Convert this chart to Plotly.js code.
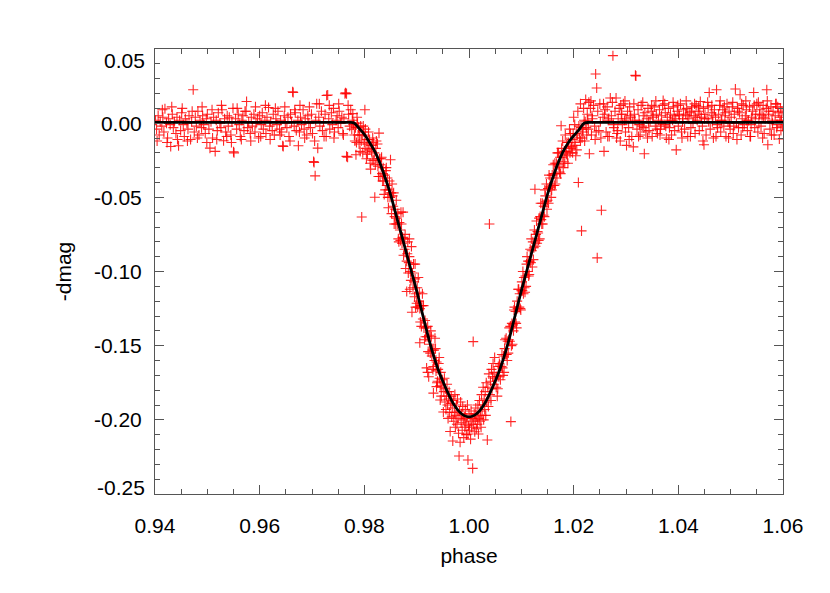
<!DOCTYPE html>
<html>
<head>
<meta charset="utf-8">
<script src="https://cdn.plot.ly/plotly-3.0.1.min.js"></script>
<style>html,body{margin:0;padding:0;background:#fff;}#chart{width:830px;height:593px;}</style>
</head>
<body>
<div id="chart"></div>
<script>
var preX = [0.9401,0.9403,0.9406,0.9408,0.9410,0.9413,0.9415,0.9417,0.9419,0.9422,
0.9424,0.9426,0.9429,0.9430,0.9433,0.9435,0.9437,0.9440,0.9442,0.9445,
0.9447,0.9449,0.9451,0.9454,0.9456,0.9458,0.9461,0.9463,0.9465,0.9468,
0.9470,0.9473,0.9475,0.9477,0.9479,0.9482,0.9484,0.9486,0.9489,0.9491,
0.9493,0.9496,0.9498,0.9500,0.9503,0.9505,0.9507,0.9510,0.9512,0.9515,
0.9517,0.9519,0.9521,0.9524,0.9526,0.9528,0.9531,0.9533,0.9535,0.9538,
0.9540,0.9542,0.9545,0.9547,0.9549,0.9550,0.9551,0.9554,0.9556,0.9559,
0.9561,0.9563,0.9566,0.9568,0.9570,0.9572,0.9575,0.9577,0.9579,0.9582,
0.9584,0.9586,0.9589,0.9591,0.9593,0.9596,0.9598,0.9600,0.9603,0.9605,
0.9607,0.9610,0.9612,0.9614,0.9617,0.9619,0.9621,0.9624,0.9626,0.9628,
0.9631,0.9633,0.9635,0.9638,0.9640,0.9642,0.9644,0.9645,0.9647,0.9649,
0.9652,0.9654,0.9656,0.9659,0.9661,0.9663,0.9664,0.9666,0.9668,0.9670,
0.9673,0.9674,0.9676,0.9678,0.9680,0.9683,0.9685,0.9687,0.9690,0.9692,
0.9694,0.9697,0.9699,0.9701,0.9703,0.9704,0.9706,0.9707,0.9709,0.9711,
0.9713,0.9715,0.9718,0.9720,0.9722,0.9725,0.9727,0.9728,0.9730,0.9732,
0.9734,0.9737,0.9739,0.9741,0.9743,0.9746,0.9748,0.9750,0.9752,0.9755,
0.9757,0.9759,0.9761,0.9763,0.9764,0.9766,0.9766,0.9768,0.9770,0.9772,
0.9774,0.9776,0.9777,0.9778,0.9779];
var preY = [0.002,-0.004,0.005,-0.008,0.001,-0.002,0.004,-0.006,0.0097,0.000,
-0.010,0.003,-0.001,-0.0157,0.006,-0.003,0.001,-0.007,0.004,-0.0152,
0.002,-0.005,0.007,-0.001,-0.009,0.003,0.000,-0.004,0.005,-0.011,
0.001,0.0225,-0.006,0.004,-0.002,0.008,-0.008,0.002,-0.003,0.005,
-0.001,-0.007,0.003,0.006,-0.004,-0.0168,0.001,-0.010,0.004,-0.019,
0.002,-0.005,0.007,0.000,-0.003,0.009,-0.0119,0.003,-0.006,0.005,
-0.002,0.004,-0.008,0.001,0.010,-0.0193,-0.0200,0.003,-0.004,0.006,
-0.001,-0.009,0.002,0.005,-0.005,0.008,0.0146,-0.003,0.001,-0.007,
0.004,-0.002,0.006,-0.006,0.000,0.003,-0.010,0.005,-0.001,0.007,
-0.004,0.002,-0.007,0.004,0.0106,-0.002,0.001,-0.005,0.006,-0.008,
0.003,-0.001,0.008,-0.004,0.002,-0.006,-0.0152,-0.0157,0.005,0.000,
-0.003,0.004,-0.009,0.006,0.001,0.0212,0.0207,-0.002,0.007,-0.005,
0.002,-0.0152,-0.006,0.004,-0.001,0.009,-0.004,0.003,-0.008,0.005,
0.000,-0.003,0.006,-0.007,-0.0258,-0.0265,-0.0355,0.002,0.0131,-0.0168,
0.004,-0.002,0.008,-0.005,0.001,0.006,-0.009,0.0187,0.019,0.003,
-0.004,0.007,-0.001,0.010,-0.006,0.002,0.005,-0.003,0.008,0.000,
0.004,-0.007,0.003,0.0198,0.0205,0.0199,-0.0224,-0.0229,0.006,-0.002,
0.009,-0.004,0.002,0.0064,-0.001];
var pre3X = [0.9404,0.9414,0.9423,0.9432,0.9443,0.9452,0.9462,0.9471,0.9481,0.9490,
0.9499,0.9509,0.9518,0.9527,0.9537,0.9546,0.9557,0.9565,0.9574,0.9583,
0.9592,0.9602,0.9611,0.9620,0.9630,0.9639,0.9648,0.9658,0.9667,0.9677,
0.9686,0.9695,0.9705,0.9714,0.9723,0.9733,0.9742,0.9751,0.9760,0.9769];
var pre3Y = [-0.012,0.009,-0.013,0.011,-0.011,0.010,-0.012,0.008,-0.010,0.011,
-0.013,0.009,-0.011,0.012,-0.009,-0.013,0.010,-0.011,0.008,-0.012,
0.011,-0.009,0.012,-0.011,0.010,-0.008,0.011,-0.012,0.009,0.012,
-0.010,0.011,-0.012,0.013,-0.009,0.012,-0.010,0.013,-0.008,0.012];
var ingX = [0.9780,0.9781,0.9783,0.9784,0.9785,0.9787,0.9788,0.9789,0.9790,0.9791,
0.9793,0.9794,0.9795,0.9796,0.9797,0.9799,0.9800,0.9801,0.9802,0.9803,
0.9805,0.9806,0.9807,0.9809,0.9810,0.9811,0.9813,0.9814,0.9815,0.9817,
0.9818,0.9819,0.9820,0.9821,0.9822,0.9824,0.9825,0.9826,0.9828,0.9829,
0.9830,0.9831,0.9832,0.9834,0.9835,0.9836,0.9837,0.9839,0.9840,0.9841,
0.9843,0.9844,0.9845,0.9847,0.9848,0.9849,0.9850,0.9851,0.9852,0.9854,
0.9855,0.9856,0.9858,0.9859,0.9860,0.9862,0.9863,0.9864,0.9865,0.9867,
0.9868,0.9869,0.9871,0.9872,0.9873,0.9874,0.9875,0.9876,0.9877,0.9878,
0.9881,0.9881,0.9882,0.9884,0.9885,0.9886,0.9886,0.9888,0.9889,0.9890,
0.9891,0.9892,0.9893,0.9895,0.9896,0.9897,0.9897,0.9899,0.9900,0.9901,
0.9902,0.9904,0.9905,0.9906,0.9906,0.9908,0.9909,0.9910,0.9912,0.9913,
0.9914,0.9916,0.9917,0.9918,0.9919,0.9920,0.9921,0.9921,0.9922,0.9923,
0.9924,0.9925,0.9926,0.9928,0.9929,0.9930,0.9932,0.9932,0.9933,0.9934,
0.9936,0.9937,0.9938,0.9938,0.9940,0.9941,0.9942,0.9944,0.9945,0.9945,
0.9946,0.9948,0.9949];
var ingY = [0.000,-0.008,-0.003,-0.0213,-0.013,0.000,-0.008,-0.003,-0.014,-0.008,
-0.002,-0.012,-0.0633,-0.008,-0.020,-0.006,-0.013,0.009,-0.004,-0.017,
-0.011,-0.021,-0.014,-0.018,-0.011,-0.027,-0.015,-0.019,-0.025,-0.013,
-0.025,-0.020,-0.0499,-0.028,-0.017,-0.024,-0.014,-0.029,-0.0067,-0.024,
-0.036,-0.028,-0.024,-0.034,-0.039,-0.030,-0.039,-0.035,-0.045,-0.032,
-0.042,-0.037,-0.050,-0.045,-0.039,-0.050,-0.0247,-0.047,-0.061,-0.049,
-0.056,-0.047,-0.063,-0.058,-0.068,-0.064,-0.068,-0.061,-0.078,-0.067,
-0.072,-0.079,-0.068,-0.081,-0.077,-0.060,-0.089,-0.078,-0.085,-0.075,
-0.1135,-0.093,-0.088,-0.101,-0.094,-0.090,-0.078,-0.100,-0.106,-0.0832,
-0.1275,-0.101,-0.111,-0.107,-0.117,-0.105,-0.095,-0.115,-0.1214,-0.111,
-0.124,-0.120,-0.114,-0.125,-0.148,-0.123,-0.137,-0.123,-0.132,-0.123,
-0.138,-0.133,-0.144,-0.138,-0.165,-0.144,-0.137,-0.168,-0.154,-0.171,
-0.143,-0.149,-0.155,-0.144,-0.157,-0.153,-0.164,-0.182,-0.153,-0.160,
-0.152,-0.167,-0.161,-0.1776,-0.174,-0.166,-0.162,-0.172,-0.177,-0.1866,
-0.168,-0.178,-0.173];
var ing2X = [0.9782,0.9786,0.9792,0.9798,0.9804,0.9808,0.9812,0.9816,0.9823,0.9827,
0.9833,0.9838,0.9842,0.9846,0.9853,0.9857,0.9861,0.9866,0.9870,0.9879,
0.9883,0.9887,0.9894,0.9898,0.9903,0.9907,0.9911,0.9915,0.9927,0.9931,
0.9935,0.9939,0.9943,0.9947];
var ing2Y = [-0.012,0.004,-0.019,-0.002,-0.024,-0.006,-0.031,-0.010,-0.012,-0.036,
-0.023,-0.048,-0.030,-0.057,-0.041,-0.068,-0.052,-0.080,-0.060,-0.098,
-0.080,-0.112,-0.095,-0.124,-0.104,-0.134,-0.115,-0.146,-0.140,-0.166,
-0.145,-0.175,-0.158,-0.184];
var botX = [0.9951,0.9952,0.9953,0.9954,0.9955,0.9956,0.9957,0.9958,0.9959,0.9960,
0.9961,0.9962,0.9963,0.9964,0.9965,0.9966,0.9967,0.9968,0.9969,0.9970,
0.9971,0.9972,0.9973,0.9974,0.9975,0.9976,0.9977,0.9978,0.9979,0.9980,
0.9981,0.9982,0.9983,0.9984,0.9985,0.9986,0.9987,0.9988,0.9989,0.9990,
0.9991,0.9992,0.9993,0.9994,0.9995,0.9996,0.9997,0.9998,0.9998,0.9999,
1.0000,1.0001,1.0002,1.0003,1.0004,1.0005,1.0006,1.0007,1.0008,1.0009,
1.0010,1.0011,1.0012,1.0013,1.0014,1.0015,1.0016,1.0017,1.0018,1.0019,
1.0020,1.0021,1.0022,1.0023,1.0024,1.0025,1.0026,1.0027,1.0028,1.0029,
1.0030,1.0031,1.0032,1.0033,1.0034,1.0035,1.0036,1.0037,1.0038,1.0039,
1.0040,1.0041,1.0042,1.0043,1.0044,1.0045,1.0046,1.0047,1.0048,1.0049];
var botY = [-0.1947,-0.181,-0.172,-0.188,-0.179,-0.193,-0.184,-0.176,-0.190,-0.199,
-0.186,-0.181,-0.195,-0.2079,-0.189,-0.184,-0.198,-0.192,-0.2143,-0.187,
-0.201,-0.195,-0.183,-0.205,-0.197,-0.190,-0.203,-0.186,-0.199,-0.209,
-0.2244,-0.194,-0.2151,-0.188,-0.202,-0.196,-0.207,-0.191,-0.200,-0.212,
-0.198,-0.205,-0.193,-0.203,-0.210,-0.199,-0.190,-0.2095,-0.2271,-0.204,
-0.196,-0.207,-0.201,-0.213,-0.194,-0.205,-0.199,-0.2327,-0.1473,-0.203,
-0.196,-0.208,-0.200,-0.192,-0.206,-0.198,-0.203,-0.190,-0.2095,-0.199,
-0.187,-0.201,-0.194,-0.205,-0.183,-0.197,-0.190,-0.178,-0.200,-0.186,
-0.193,-0.181,-0.197,-0.175,-0.188,-0.2136,-0.178,-0.191,-0.169,-0.068,
-0.183,-0.174,-0.187,-0.166,-0.179,-0.171,-0.162,-0.176,-0.168,-0.158];
var egrX = [1.0050,1.0052,1.0053,1.0055,1.0056,1.0057,1.0059,1.0060,1.0062,1.0063,
1.0064,1.0066,1.0067,1.0068,1.0070,1.0071,1.0072,1.0074,1.0075,1.0076,
1.0078,1.0079,1.0080,1.0081,1.0082,1.0084,1.0085,1.0086,1.0088,1.0089,
1.0090,1.0092,1.0093,1.0094,1.0096,1.0097,1.0098,1.0100,1.0101,1.0102,
1.0104,1.0105,1.0106,1.0108,1.0109,1.0110,1.0112,1.0113,1.0114,1.0116,
1.0117,1.0118,1.0120,1.0121,1.0122,1.0124,1.0125,1.0126,1.0127,1.0128,
1.0130,1.0131,1.0132,1.0134,1.0135,1.0136,1.0138,1.0139,1.0140,1.0142,
1.0143,1.0144,1.0146,1.0147,1.0148,1.0150,1.0151,1.0152,1.0154,1.0155,
1.0156,1.0158,1.0159,1.0160,1.0162,1.0163,1.0164,1.0166,1.0167,1.0168,
1.0170,1.0171,1.0172,1.0174,1.0175,1.0176,1.0177,1.0178,1.0179,1.0181,
1.0182,1.0183,1.0185,1.0186,1.0187,1.0189,1.0190,1.0191,1.0193,1.0194,
1.0195,1.0197,1.0198,1.0199,1.0201,1.0202,1.0203,1.0205,1.0206,1.0207,
1.0208,1.0209,1.0210,1.0211,1.0213,1.0213,1.0214,1.0215,1.0216,1.0217,
1.0218,1.0219,1.0220,1.0221,1.0222,1.0223,1.0224,1.0225];
var egrY = [-0.172,-0.178,-0.171,-0.179,-0.164,-0.171,-0.163,-0.173,-0.164,-0.156,
-0.165,-0.157,-0.168,-0.152,-0.156,-0.145,-0.156,-0.147,-0.155,-0.146,
-0.147,-0.137,-0.2012,-0.150,-0.135,-0.136,-0.140,-0.126,-0.134,-0.127,
-0.135,-0.120,-0.125,-0.112,-0.124,-0.115,-0.125,-0.113,-0.107,-0.113,
-0.115,-0.104,-0.111,-0.103,-0.110,-0.095,-0.100,-0.093,-0.103,-0.093,
-0.085,-0.094,-0.086,-0.097,-0.080,-0.084,-0.072,-0.0445,-0.083,-0.075,
-0.081,-0.073,-0.074,-0.064,-0.078,-0.063,-0.065,-0.068,-0.054,-0.062,
-0.056,-0.063,-0.049,-0.053,-0.041,-0.052,-0.044,-0.054,-0.043,-0.037,
-0.043,-0.045,-0.035,-0.042,-0.034,-0.042,-0.027,-0.034,-0.027,-0.037,
-0.028,-0.020,-0.029,-0.023,-0.034,-0.0017,-0.017,-0.023,-0.012,-0.026,
-0.019,-0.027,-0.019,-0.021,-0.013,-0.027,-0.013,-0.016,-0.020,-0.007,
-0.017,-0.011,-0.020,-0.007,-0.013,-0.001,-0.015,-0.007,-0.018,-0.008,
0.008,-0.040,-0.002,-0.010,-0.012,0.013,-0.003,-0.0726,-0.010,-0.004,
-0.006,0.010,0.002,-0.012,0.001,0.016,-0.003,-0.008];
var egr2X = [1.0054,1.0058,1.0065,1.0069,1.0073,1.0077,1.0083,1.0087,1.0091,1.0095,
1.0099,1.0103,1.0107,1.0111,1.0115,1.0119,1.0123,1.0129,1.0133,1.0137,
1.0141,1.0145,1.0149,1.0153,1.0157,1.0161,1.0165,1.0169,1.0173,1.0180,
1.0184,1.0188,1.0192,1.0196,1.0200,1.0204];
var egr2Y = [-0.184,-0.162,-0.170,-0.146,-0.160,-0.138,-0.149,-0.124,-0.138,-0.112,
-0.126,-0.100,-0.114,-0.090,-0.102,-0.078,-0.092,-0.066,-0.079,-0.054,
-0.068,-0.045,-0.058,-0.035,-0.050,-0.028,-0.041,-0.020,-0.033,-0.030,
-0.008,-0.022,-0.004,-0.016,0.004,-0.022];
var postX = [1.0226,1.0228,1.0230,1.0232,1.0234,1.0236,1.0238,1.0240,1.0242,1.0244,
1.0245,1.0246,1.0248,1.0250,1.0252,1.0253,1.0256,1.0258,1.0260,1.0229,
1.0262,1.0264,1.0266,1.0268,1.0270,1.0272,1.0275,1.0277,1.0279,1.0281,
1.0283,1.0285,1.0287,1.0289,1.0291,1.0293,1.0295,1.0297,1.0299,1.0301,
1.0303,1.0305,1.0307,1.0309,1.0311,1.0313,1.0314,1.0316,1.0318,1.0319,
1.0321,1.0323,1.0325,1.0327,1.0329,1.0331,1.0333,1.0335,1.0336,1.0338,
1.0340,1.0342,1.0344,1.0346,1.0348,1.0350,1.0352,1.0354,1.0356,1.0358,
1.0360,1.0362,1.0364,1.0366,1.0368,1.0370,1.0371,1.0373,1.0375,1.0377,
1.0379,1.0381,1.0383,1.0385,1.0387,1.0389,1.0391,1.0393,1.0395,1.0396,
1.0398,1.0400,1.0402,1.0404,1.0406,1.0408,1.0410,1.0412,1.0414,1.0416,
1.0418,1.0420,1.0422,1.0424,1.0426,1.0428,1.0430,1.0432,1.0434,1.0436,
1.0438,1.0440,1.0442,1.0444,1.0446,1.0448,1.0449,1.0451,1.0453,1.0455,
1.0457,1.0459,1.0461,1.0463,1.0465,1.0467,1.0469,1.0471,1.0473,1.0475,
1.0477,1.0479,1.0481,1.0483,1.0485,1.0487,1.0489,1.0491,1.0493,1.0495,
1.0497,1.0499,1.0501,1.0503,1.0505,1.0507,1.0509,1.0511,1.0513,1.0515,
1.0517,1.0518,1.0520,1.0522,1.0524,1.0526,1.0528,1.0530,1.0532,1.0534,
1.0536,1.0538,1.0540,1.0542,1.0544,1.0546,1.0548,1.0550,1.0552,1.0554,
1.0556,1.0558,1.0560,1.0562,1.0564,1.0566,1.0568,1.0569,1.0571,1.0573,
1.0575,1.0577,1.0579,1.0581,1.0583,1.0585,1.0587,1.0589,1.0591,1.0593,
1.0594,1.0595,1.0596,1.0597,1.0598,1.0599];
var postY = [0.006,-0.004,-0.0206,0.010,-0.008,0.003,0.012,-0.002,0.0331,0.0237,
-0.0908,0.008,-0.005,0.013,-0.010,-0.0587,0.004,-0.019,0.009,0.014,
-0.006,0.011,0.002,-0.009,0.017,0.005,0.0455,-0.003,0.008,0.017,
-0.007,0.003,0.010,-0.012,0.006,-0.001,0.013,0.002,-0.006,-0.015,
0.008,-0.003,0.011,0.004,-0.009,0.001,-0.016,0.006,0.0322,0.0318,
-0.004,0.009,0.002,-0.008,0.012,-0.002,0.005,-0.0206,0.007,-0.006,
0.003,0.010,-0.005,0.001,0.008,-0.009,0.004,0.011,-0.002,0.006,
-0.007,0.002,0.009,-0.004,0.005,0.012,0.0153,-0.001,0.007,-0.010,
0.004,0.010,-0.003,0.006,-0.008,0.002,0.011,-0.005,0.003,-0.018,
0.008,-0.002,0.005,0.013,-0.006,0.001,0.009,-0.004,0.006,0.010,
-0.009,0.003,0.007,-0.003,0.011,0.000,0.005,-0.007,0.012,0.002,
0.008,-0.005,0.0146,0.004,-0.002,0.010,-0.0146,0.006,-0.008,0.003,
0.011,0.0207,-0.004,0.007,0.001,-0.010,0.009,0.004,0.0225,-0.003,
0.006,0.012,-0.006,0.002,0.009,-0.002,0.005,-0.009,0.013,0.001,
0.008,-0.004,0.004,0.011,-0.007,0.006,0.023,0.000,0.010,-0.003,
0.007,0.0192,-0.008,0.003,0.012,-0.001,0.005,0.009,-0.005,0.002,
0.011,-0.009,0.004,0.008,0.0207,-0.003,0.006,0.013,-0.006,0.001,
0.009,-0.002,0.005,0.012,-0.007,0.003,0.010,0.0225,-0.0146,0.006,
-0.004,0.011,0.002,0.008,-0.008,0.005,0.013,-0.001,0.007,-0.0107,
0.004,0.010,-0.005,0.002,0.008,-0.002];
var post2X = [1.0227,1.0235,1.0243,1.0251,1.0259,1.0267,1.0276,1.0284,1.0292,1.0300,
1.0308,1.0317,1.0326,1.0334,1.0343,1.0351,1.0359,1.0367,1.0376,1.0384,
1.0392,1.0401,1.0409,1.0417,1.0425,1.0433,1.0441,1.0450,1.0458,1.0466,
1.0474,1.0482,1.0490,1.0498,1.0506,1.0514,1.0523,1.0531,1.0539,1.0547,
1.0555,1.0563,1.0572,1.0580,1.0588,1.0596];
var post2Y = [0.002,0.005,-0.006,0.001,0.006,0.003,-0.001,-0.005,0.006,0.003,
0.005,0.002,-0.001,-0.003,0.001,0.005,-0.004,0.000,-0.002,0.002,
0.005,0.006,0.003,0.005,0.008,0.004,0.006,0.003,0.001,0.005,
-0.001,0.002,0.007,0.000,-0.002,0.008,-0.003,0.002,-0.001,0.003,
0.006,0.004,0.008,0.000,-0.003,0.002];
var post3X = [1.0233,1.0241,1.0257,1.0265,1.0274,1.0282,1.0290,1.0298,1.0306,1.0315,
1.0324,1.0332,1.0341,1.0349,1.0357,1.0365,1.0374,1.0382,1.0390,1.0399,
1.0407,1.0415,1.0423,1.0431,1.0439,1.0447,1.0456,1.0464,1.0472,1.0480,
1.0488,1.0496,1.0504,1.0512,1.0521,1.0529,1.0537,1.0545,1.0553,1.0561,
1.0570,1.0578,1.0586,1.0590];
var post3Y = [0.015,-0.011,0.013,-0.009,0.014,-0.010,0.012,0.015,-0.011,0.013,
-0.009,0.014,-0.010,0.012,0.015,-0.008,0.013,-0.011,0.014,0.012,
-0.010,0.015,-0.009,0.013,0.011,-0.012,0.014,0.012,-0.009,0.015,
0.011,-0.010,0.014,-0.011,0.013,0.015,-0.009,0.012,0.014,-0.010,
0.015,-0.008,0.013,0.011];

// ---- Model light curve ----
var modelPhase = [0.940,0.960,0.975,0.977,
0.978,0.979,0.980,0.981,0.982,0.983,0.984,0.985,0.986,0.987,0.988,0.989,0.990,
0.991,0.992,0.993,0.994,0.995,0.996,0.997,0.998,0.999,1.000,
1.001,1.002,1.003,1.004,1.005,1.006,1.007,1.008,1.009,1.010,1.011,1.012,1.013,
1.014,1.015,1.016,1.017,1.018,1.019,1.020,1.021,1.022,
1.023,1.025,1.040,1.060];
var modelDmag = [0.0005,0.0005,0.0005,0.0005,
0.0002,-0.0035,-0.0075,-0.013,-0.019,-0.027,-0.037,-0.048,-0.061,-0.074,-0.087,-0.100,-0.113,
-0.127,-0.141,-0.154,-0.165,-0.174,-0.182,-0.189,-0.194,-0.197,-0.198,
-0.197,-0.194,-0.189,-0.182,-0.174,-0.165,-0.154,-0.141,-0.127,-0.113,-0.100,-0.087,-0.074,
-0.061,-0.048,-0.037,-0.027,-0.019,-0.013,-0.0085,-0.0045,0.0000,
0.0005,0.0005,0.0005,0.0005];

// ---- Axis ticks ----
var xTickVals = [0.94,0.96,0.98,1.00,1.02,1.04,1.06];
var xTickText = ['0.94','0.96','0.98','1.00','1.02','1.04','1.06'];
var yTickVals = [-0.20,-0.15,-0.10,-0.05,0.00];
var yTickText = ['-0.20','-0.15','-0.10','-0.05','0.00'];
var yEdgeVals = [0.05,-0.25];
var yEdgeText = ['0.05','-0.25'];

var allX = preX.concat(pre3X, ingX, ing2X, botX, egrX, egr2X, postX, post2X, post3X);
var allY = preY.concat(pre3Y, ingY, ing2Y, botY, egrY, egr2Y, postY, post2Y, post3Y);

var FONT = 'Liberation Sans, Arial, Helvetica, sans-serif';
var FS = 21;
var AX = '#555555';

var traces = [
  {
    x: allX, y: allY, type: 'scatter', mode: 'markers',
    marker: {symbol: 'cross-thin-open', size: 7.2, color: 'rgba(255,0,0,0.85)',
             line: {width: 1.1, color: 'rgba(255,0,0,0.85)'}},
    hoverinfo: 'skip', showlegend: false
  },
  {
    x: modelPhase, y: modelDmag, type: 'scatter', mode: 'lines',
    line: {color: '#000', width: 2.8, shape: 'spline', smoothing: 1.0},
    hoverinfo: 'skip', showlegend: false
  }
];

var annotations = yEdgeVals.map(function (v, i) {
  return {
    x: 0, xref: 'paper', y: v, yref: 'y', text: yEdgeText[i],
    xanchor: 'right', yanchor: 'middle', showarrow: false,
    xshift: -8, yshift: (v > 0 ? -11 : 7),
    font: {family: FONT, size: FS, color: '#000'}
  };
});

var layout = {
  width: 830, height: 593,
  margin: {l: 155, r: 47, t: 49, b: 99, pad: 0},
  paper_bgcolor: '#fff', plot_bgcolor: '#fff',
  showlegend: false,
  font: {family: FONT, size: FS, color: '#000'},
  xaxis: {
    range: [0.94, 1.06], tickmode: 'array', tickvals: xTickVals, ticktext: xTickText,
    showgrid: false, zeroline: false, showline: true, linecolor: AX, linewidth: 1,
    mirror: 'ticks', ticks: 'inside', ticklen: 9, tickwidth: 1, tickcolor: AX,
    minor: {tickmode: 'linear', tick0: 0.94, dtick: 0.005, ticks: 'inside', ticklen: 5, tickwidth: 1, tickcolor: AX, showgrid: false},
    tickfont: {family: FONT, size: FS, color: '#000'},
    ticklabelstandoff: 13,
    title: {text: 'phase', font: {family: FONT, size: FS, color: '#000'}, standoff: 12}
  },
  yaxis: {
    range: [-0.25, 0.05], tickmode: 'array', tickvals: yTickVals, ticktext: yTickText,
    showgrid: false, zeroline: false, showline: true, linecolor: AX, linewidth: 1,
    mirror: 'ticks', ticks: 'inside', ticklen: 9, tickwidth: 1, tickcolor: AX,
    minor: {tickmode: 'linear', tick0: 0, dtick: 0.01, ticks: 'inside', ticklen: 5, tickwidth: 1, tickcolor: AX, showgrid: false},
    tickfont: {family: FONT, size: FS, color: '#000'},
    ticklabelstandoff: 8,
    title: {text: '-dmag', font: {family: FONT, size: FS, color: '#000'}, standoff: 16}
  },
  annotations: annotations
};

Plotly.newPlot('chart', traces, layout, {staticPlot: true, displayModeBar: false});
</script>
</body>
</html>
